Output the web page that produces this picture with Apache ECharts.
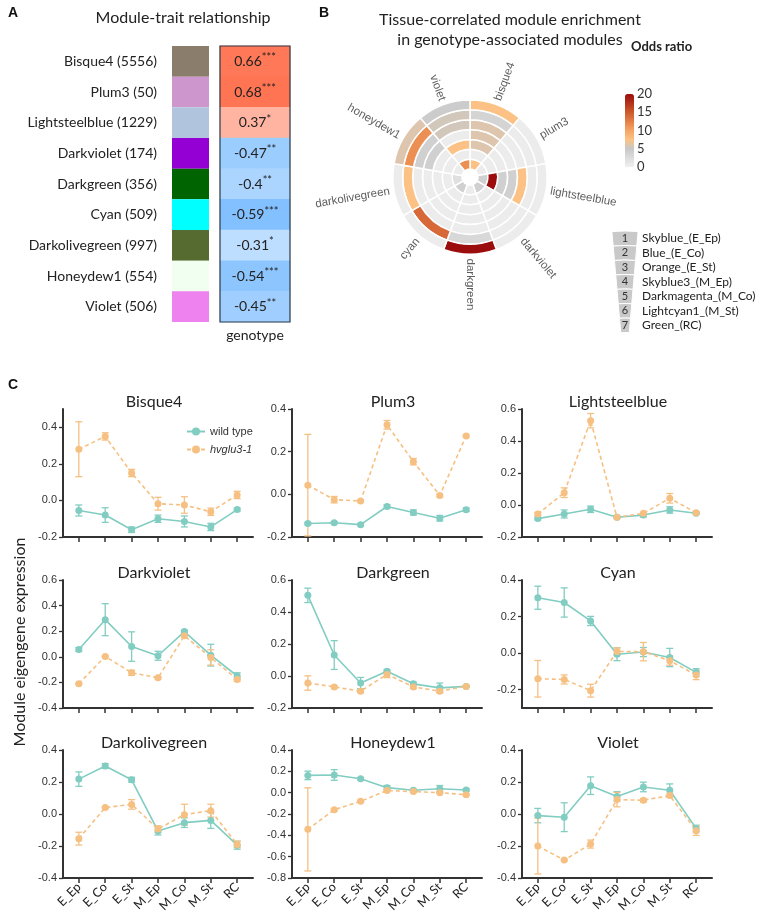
<!DOCTYPE html>
<html>
<head>
<meta charset="utf-8">
<script src="https://cdn.jsdelivr.net/npm/echarts@6/dist/echarts.min.js"></script>
<style>
  html, body { margin: 0; padding: 0; background: #fff; }
  #main { width: 760px; height: 916px; }
</style>
</head>
<body>
<div id="main"></div>
<script>
// ---- panel A: module-trait relationship
const traitModules = ['Bisque4 (5556)', 'Plum3 (50)', 'Lightsteelblue (1229)', 'Darkviolet (174)', 'Darkgreen (356)',
  'Cyan (509)', 'Darkolivegreen (997)', 'Honeydew1 (554)', 'Violet (506)'];
const moduleColors = ['#8b7d6b', '#cd96cd', '#b0c4de', '#9400d3', '#006400', '#00ffff', '#556b2f', '#f0fff0', '#ee82ee'];
const genotypeCorr = [0.66, 0.68, 0.37, -0.47, -0.4, -0.59, -0.31, -0.54, -0.45];
const corrStars = ['***', '***', '*', '**', '**', '***', '*', '***', '**'];

// ---- panel B: enrichment rings
const sectorModules = ['bisque4', 'plum3', 'lightsteelblue', 'darkviolet', 'darkgreen', 'cyan', 'darkolivegreen', 'honeydew1', 'violet'];
const tissueModules = ['Skyblue_(E_Ep)', 'Blue_(E_Co)', 'Orange_(E_St)', 'Skyblue3_(M_Ep)', 'Darkmagenta_(M_Co)',
  'Lightcyan1_(M_St)', 'Green_(RC)'];
// odds ratio, one row per sector, ring 1 (outer) .. ring 7 (inner)
const oddsRatio = [
  [7.5, 3.5, 6, 6, 6, 0.5, 7.5],        // bisque4
  [0.5, 0.5, 0.5, 0.5, 0.5, 0.5, 0.5],  // plum3
  [0.5, 0.5, 7.5, 4, 4, 20, 4],         // lightsteelblue
  [0.5, 0.5, 0.5, 0.5, 0.5, 0.5, 4],    // darkviolet
  [20, 3, 0.5, 0.5, 0.5, 0.5, 0.5],     // darkgreen
  [0.5, 14, 0.5, 0.5, 0.5, 0.5, 4],     // cyan
  [0.5, 7.5, 0.5, 0.5, 0.5, 0.5, 2],    // darkolivegreen
  [6, 11.5, 4, 4, 0.5, 0.5, 0.5],       // honeydew1
  [4.5, 5.5, 5.5, 0.5, 7.5, 0.5, 11.5]  // violet
];
const oddsTicks = [0, 5, 10, 15, 20];
const oddsColors = ['#f0f0f0', '#dcdcdc', '#c8c8c8', '#fcc285', '#f5a565', '#e48047', '#cc5a2c', '#b3321a', '#9b0c0c'];

// ---- panel C: eigengene expression
const tissues = ['E_Ep', 'E_Co', 'E_St', 'M_Ep', 'M_Co', 'M_St', 'RC'];
const panelNames = ['Bisque4', 'Plum3', 'Lightsteelblue', 'Darkviolet', 'Darkgreen', 'Cyan', 'Darkolivegreen', 'Honeydew1', 'Violet'];
const wildTypeMean = [
  [-0.055, -0.08, -0.16, -0.10, -0.115, -0.145, -0.05],
  [-0.137, -0.133, -0.142, -0.057, -0.085, -0.112, -0.072],
  [-0.085, -0.056, -0.027, -0.077, -0.063, -0.031, -0.052],
  [0.057, 0.29, 0.08, 0.008, 0.197, 0.013, -0.15],
  [0.504, 0.131, -0.044, 0.03, -0.049, -0.074, -0.065],
  [0.303, 0.277, 0.176, -0.006, 0.006, -0.024, -0.105],
  [0.218, 0.30, 0.214, -0.106, -0.054, -0.04, -0.195],
  [0.162, 0.166, 0.131, 0.047, 0.022, 0.037, 0.025],
  [-0.01, -0.02, 0.177, 0.11, 0.169, 0.148, -0.09]
];
const wildTypeSem = [
  [0.03, 0.04, 0.015, 0.02, 0.03, 0.02, 0.008],
  [0.005, 0.005, 0.005, 0.008, 0.012, 0.013, 0.008],
  [0.008, 0.025, 0.02, 0.008, 0.012, 0.02, 0.005],
  [0.015, 0.125, 0.115, 0.035, 0.01, 0.085, 0.025],
  [0.045, 0.09, 0.035, 0.01, 0.01, 0.03, 0.005],
  [0.063, 0.08, 0.025, 0.035, 0.025, 0.05, 0.02],
  [0.045, 0.015, 0.015, 0.025, 0.03, 0.05, 0.025],
  [0.04, 0.05, 0.01, 0.02, 0.01, 0.03, 0.01],
  [0.045, 0.09, 0.055, 0.03, 0.03, 0.04, 0.02]
];
const mutantMean = [
  [0.28, 0.35, 0.15, -0.018, -0.025, -0.062, 0.03],
  [0.043, -0.025, -0.031, 0.326, 0.153, -0.005, 0.274],
  [-0.056, 0.077, 0.527, -0.077, -0.052, 0.042, -0.048],
  [-0.21, 0.003, -0.125, -0.164, 0.164, -0.005, -0.177],
  [-0.044, -0.068, -0.095, 0.01, -0.068, -0.095, -0.065],
  [-0.14, -0.144, -0.205, 0.009, 0.008, -0.041, -0.12],
  [-0.154, 0.04, 0.06, -0.094, -0.004, 0.021, -0.19],
  [-0.344, -0.16, -0.081, 0.02, 0.01, 0.0, -0.019],
  [-0.2, -0.288, -0.188, 0.09, 0.086, 0.115, -0.104]
];
const mutantSem = [
  [0.15, 0.02, 0.02, 0.035, 0.045, 0.02, 0.02],
  [0.238, 0.015, 0.005, 0.02, 0.015, 0.005, 0.005],
  [0.01, 0.03, 0.045, 0.005, 0.005, 0.03, 0.005],
  [0.005, 0.005, 0.02, 0.008, 0.01, 0.06, 0.015],
  [0.045, 0.005, 0.008, 0.02, 0.01, 0.01, 0.005],
  [0.1, 0.025, 0.035, 0.02, 0.05, 0.025, 0.025],
  [0.04, 0.005, 0.03, 0.02, 0.065, 0.04, 0.02],
  [0.39, 0.01, 0.01, 0.005, 0.01, 0.005, 0.01],
  [0.175, 0.005, 0.025, 0.045, 0.01, 0.01, 0.03]
];
const yMin = [-0.2, -0.2, -0.2, -0.4, -0.2, -0.3, -0.4, -0.8, -0.4];
const yMax = [0.5, 0.4, 0.6, 0.6, 0.6, 0.4, 0.4, 0.4, 0.4];
const yTicks = [
  [-0.2, 0, 0.2, 0.4],
  [-0.2, 0, 0.2, 0.4],
  [-0.2, 0, 0.2, 0.4, 0.6],
  [-0.4, -0.2, 0, 0.2, 0.4, 0.6],
  [-0.2, 0, 0.2, 0.4, 0.6],
  [-0.2, 0, 0.2, 0.4],
  [-0.4, -0.2, 0, 0.2, 0.4],
  [-0.8, -0.6, -0.4, -0.2, 0, 0.2, 0.4],
  [-0.4, -0.2, 0, 0.2, 0.4]
];

const WT_COLOR = '#82cdc2';
const MUT_COLOR = '#f6c083';
const AXIS_COLOR = '#333';

const chart = echarts.init(document.getElementById('main'), null, { renderer: 'canvas' });

// layout
const colLeft = [63, 292, 522];
const rowTop = [409, 580, 750];
const plotW = 190, plotH = 128;
const titleCenter = [149, 388, 613];

const grids = [
  { left: 172, top: 46, width: 37, height: 276 },   // colour strip
  { left: 220, top: 46, width: 70, height: 276 }    // correlation cells
];
const xAxes = [
  { gridIndex: 0, type: 'value', min: 0, max: 1, show: false },
  { gridIndex: 1, type: 'category', data: ['genotype'], axisLine: { show: false }, axisTick: { show: false },
    axisLabel: { fontSize: 14, fontFamily: 'Lato', color: '#222', margin: 6 } }
];
const yAxes = [
  { gridIndex: 0, type: 'category', inverse: true, data: traitModules, axisLine: { show: false }, axisTick: { show: false },
    axisLabel: { fontSize: 14, fontFamily: 'Lato', color: '#222', margin: 15 } },
  { gridIndex: 1, type: 'category', inverse: true, data: traitModules, show: false }
];
const titles = [
  { text: 'A', left: 3, top: 1, textStyle: { fontSize: 14, fontWeight: 'bold', fontFamily: 'Liberation Sans', color: '#111' } },
  { text: 'Module-trait relationship', left: 178, top: 5, textAlign: 'center',
    textStyle: { fontSize: 16, fontWeight: 'normal', fontFamily: 'Lato', color: '#222' } },
  { text: 'B', left: 314, top: 1, textStyle: { fontSize: 14, fontWeight: 'bold', fontFamily: 'Liberation Sans', color: '#111' } },
  { text: 'Tissue-correlated module enrichment\nin genotype-associated modules', left: 505, top: 5, textAlign: 'center',
    textStyle: { fontSize: 16, fontWeight: 'normal', fontFamily: 'Lato', color: '#222', lineHeight: 20 } },
  { text: 'Odds ratio', left: 626, top: 35, textStyle: { fontSize: 13, fontWeight: 'bold', fontFamily: 'Lato', color: '#222' } },
  { text: 'C', left: 3, top: 373, textStyle: { fontSize: 14, fontWeight: 'bold', fontFamily: 'Liberation Sans', color: '#111' } }
];

const series = [];
series.push({
  type: 'bar', xAxisIndex: 0, yAxisIndex: 0, barWidth: '100%', silent: true,
  data: moduleColors.map(c => ({ value: 1, itemStyle: { color: c } }))
});
const heatIndex = series.length;
series.push({
  type: 'heatmap', xAxisIndex: 1, yAxisIndex: 1, silent: true,
  data: genotypeCorr.map((v, i) => [0, i, v]),
  label: {
    show: true,
    formatter: p => '{v|' + genotypeCorr[p.dataIndex] + '}{s|' + corrStars[p.dataIndex] + '}',
    rich: {
      v: { fontSize: 14, fontFamily: 'Lato', color: '#222', lineHeight: 18 },
      s: { fontSize: 11, fontFamily: 'Lato', color: '#222', lineHeight: 9, verticalAlign: 'top' }
    }
  }
});

// polar rings, stacked from the inner ring (7) outwards
const ringIndices = [];
for (let t = tissueModules.length - 1; t >= 0; t--) {
  ringIndices.push(series.length);
  series.push({
    type: 'bar', coordinateSystem: 'polar', stack: 'rings', name: tissueModules[t],
    barCategoryGap: '0%', silent: true,
    encode: { radius: 0, angle: 1 },
    data: sectorModules.map((m, i) => [1, i, oddsRatio[i][t]]),
    itemStyle: { borderColor: '#fff', borderWidth: 1.5 }
  });
}
// sector names around the circle
series.push({
  type: 'scatter', coordinateSystem: 'polar', symbolSize: 1, silent: true,
  itemStyle: { color: 'rgba(0,0,0,0)' },
  data: sectorModules.map((m, i) => {
    const theta = (i + 0.5) * 360 / sectorModules.length;
    const right = theta <= 180;
    return { name: m, value: [7.45, i], label: { rotate: right ? 90 - theta : 270 - theta, align: right ? 'left' : 'right' } };
  }),
  label: { show: true, position: 'inside', formatter: '{b}', fontSize: 11.5, fontFamily: 'Liberation Sans', color: '#333', verticalAlign: 'middle' }
});

function errorBarItem(params, api) {
  const x = api.value(0), m = api.value(1), e = api.value(2);
  const top = api.coord([x, m + e]);
  const bot = api.coord([x, m - e]);
  const hw = 3.5;
  const style = { stroke: api.visual('color'), lineWidth: 1.3 };
  return {
    type: 'group', children: [
      { type: 'line', shape: { x1: top[0], y1: top[1], x2: bot[0], y2: bot[1] }, style },
      { type: 'line', shape: { x1: top[0] - hw, y1: top[1], x2: top[0] + hw, y2: top[1] }, style },
      { type: 'line', shape: { x1: bot[0] - hw, y1: bot[1], x2: bot[0] + hw, y2: bot[1] }, style }
    ]
  };
}

const tissueIdx = tissues.map((t, j) => j);
panelNames.forEach((name, p) => {
  const col = p % 3, row = Math.floor(p / 3);
  const gi = grids.length;
  grids.push({ left: colLeft[col], top: rowTop[row], width: plotW, height: plotH });
  xAxes.push({
    gridIndex: gi, type: 'value', min: -0.6, max: 6.6,
    axisLine: { onZero: false, lineStyle: { color: AXIS_COLOR, width: 2 } },
    axisTick: { customValues: tissueIdx, length: 5, lineStyle: { color: AXIS_COLOR, width: 1.5 } },
    axisLabel: {
      show: row === 2, customValues: tissueIdx, formatter: v => tissues[Math.round(v)],
      rotate: 45, fontSize: 12.5, fontFamily: 'Lato', color: '#222', margin: 7
    },
    splitLine: { show: false }
  });
  yAxes.push({
    gridIndex: gi, type: 'value', min: yMin[p], max: yMax[p],
    axisLine: { show: true, onZero: false, lineStyle: { color: AXIS_COLOR, width: 2 } },
    axisTick: { show: true, customValues: yTicks[p], length: 4, lineStyle: { color: AXIS_COLOR, width: 1.3 } },
    axisLabel: { customValues: yTicks[p], formatter: v => v.toFixed(1), fontSize: 11, fontFamily: 'Liberation Sans', color: '#333', margin: 6 },
    splitLine: { show: false }
  });
  titles.push({ text: name, left: titleCenter[col], top: rowTop[row] - 20, textAlign: 'center',
    textStyle: { fontSize: 16, fontWeight: 'normal', fontFamily: 'Lato', color: '#222' } });

  [[wildTypeMean, wildTypeSem, WT_COLOR], [mutantMean, mutantSem, MUT_COLOR]].forEach(([means, sems, color]) => {
    series.push({
      type: 'custom', xAxisIndex: gi, yAxisIndex: gi, silent: true, clip: true, z: 2,
      itemStyle: { color },
      encode: { x: 0, y: 1 },
      renderItem: errorBarItem,
      data: means[p].map((v, j) => [j, v, sems[p][j]])
    });
  });
  series.push({
    type: 'line', name: 'wild type', xAxisIndex: gi, yAxisIndex: gi, z: 3, silent: true,
    symbol: 'circle', symbolSize: 7, color: WT_COLOR,
    lineStyle: { width: 1.6, color: WT_COLOR }, itemStyle: { color: WT_COLOR },
    data: wildTypeMean[p].map((v, j) => [j, v])
  });
  series.push({
    type: 'line', name: 'hvglu3-1', xAxisIndex: gi, yAxisIndex: gi, z: 3, silent: true,
    symbol: 'circle', symbolSize: 7, color: MUT_COLOR,
    lineStyle: { width: 1.6, type: [4, 3], color: MUT_COLOR }, itemStyle: { color: MUT_COLOR },
    data: mutantMean[p].map((v, j) => [j, v])
  });
});

// colour bar tick labels and ring legend
const barTop = 94, barLen = 73;
const graphics = [
  { type: 'rect', z: 100, silent: true, shape: { x: 220, y: 46, width: 70, height: 276 },
    style: { fill: null, stroke: '#2e3b48', lineWidth: 1.2 } },
  { type: 'text', x: 20, y: 642, rotation: Math.PI / 2, silent: true,
    style: { text: 'Module eigengene expression', fontSize: 16, fontFamily: 'Lato', fill: '#222', align: 'center', verticalAlign: 'middle' } }
];
oddsTicks.forEach(v => {
  graphics.push({ type: 'text', x: 637, y: barTop + (20 - v) / 20 * barLen, silent: true,
    style: { text: String(v), fontSize: 13, fontFamily: 'Lato', fill: '#333', align: 'left', verticalAlign: 'middle' } });
});
const wedgeCx = 625, wedgeCy = 381, wedgeR = 150, rowH = 14.5, halfAng = 5 * Math.PI / 180;
tissueModules.forEach((t, k) => {
  graphics.push({ type: 'sector', silent: true,
    shape: { cx: wedgeCx, cy: wedgeCy, r: wedgeR - rowH * k, r0: wedgeR - rowH * (k + 1),
      startAngle: -Math.PI / 2 - halfAng, endAngle: -Math.PI / 2 + halfAng },
    style: { fill: '#c9c9c9', stroke: '#fff', lineWidth: 1 } });
  const y = wedgeCy - wedgeR + rowH * k + rowH / 2;
  graphics.push({ type: 'text', x: wedgeCx, y, silent: true, z: 10,
    style: { text: String(k + 1), fontSize: 11, fontFamily: 'Lato', fill: '#333', align: 'center', verticalAlign: 'middle' } });
  graphics.push({ type: 'text', x: 642, y, silent: true,
    style: { text: t, fontSize: 12, fontFamily: 'Lato', fill: '#222', align: 'left', verticalAlign: 'middle' } });
});

const option = {
  animation: false,
  backgroundColor: '#fff',
  textStyle: { fontFamily: 'Lato' },
  title: titles,
  grid: grids.map(g => Object.assign({ outerBoundsMode: 'none', containLabel: false }, g)),
  xAxis: xAxes,
  yAxis: yAxes,
  polar: { center: [470, 177], radius: [8, 83] },
  angleAxis: {
    type: 'category', data: sectorModules, startAngle: 90, clockwise: true,
    axisLine: { show: false }, axisTick: { show: false }, axisLabel: { show: false }, splitLine: { show: false }
  },
  radiusAxis: {
    type: 'value', min: 0, max: 7.6,
    axisLine: { show: false }, axisTick: { show: false }, axisLabel: { show: false }, splitLine: { show: false }
  },
  visualMap: [
    { type: 'continuous', show: false, min: -1, max: 1, seriesIndex: heatIndex, dimension: 2,
      inRange: { color: ['#2c95ff', '#ffffff', '#ff3300'] } },
    { type: 'continuous', min: 0, max: 20, seriesIndex: ringIndices, dimension: 2,
      left: 625, top: barTop, padding: 0, itemWidth: 9, itemHeight: barLen, calculable: false,
      inRange: { color: oddsColors } }
  ],
  legend: {
    left: 181, top: 421, orient: 'vertical', itemWidth: 18, itemHeight: 10, itemGap: 7, selectedMode: false,
    data: [{ name: 'wild type' }, { name: 'hvglu3-1', textStyle: { fontStyle: 'italic' } }],
    textStyle: { fontSize: 11, fontFamily: 'Liberation Sans', color: '#333' }
  },
  graphic: graphics,
  series: series
};
chart.setOption(option);
</script>
</body>
</html>
